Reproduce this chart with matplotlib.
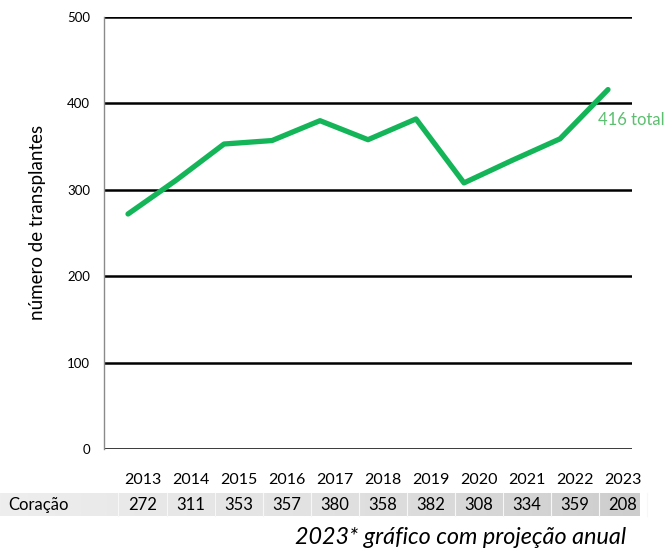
import numpy as np
import matplotlib.pyplot as plt

plt.rcParams['font.family'] = ['Lato', 'DejaVu Sans']

anos = ['2013', '2014', '2015', '2016', '2017', '2018', '2019', '2020', '2021', '2022', '2023']
transplantes = [272, 311, 353, 357, 380, 358, 382, 308, 334, 359, 416]
tabela_coracao = [272, 311, 353, 357, 380, 358, 382, 308, 334, 359, 208]
rotulo_linha = 'Coração'
rotulo_total = '416 total'

W, H = 668, 549
fig = plt.figure(figsize=(W / 100, H / 100), dpi=100, facecolor='white')

# grafico principal
ax = fig.add_axes([104 / W, 100 / H, 528 / W, 432 / H])
x = np.arange(len(anos))
for v in range(0, 501, 100):
    ax.axhline(v, color='black', lw=1.8, zorder=1)
ax.plot(x, transplantes, color='#14b558', lw=3.8, solid_capstyle='round',
        solid_joinstyle='round', zorder=3)
ax.set_xlim(-0.5, 10.5)
ax.set_ylim(0, 500)
ax.set_xticks([])
ax.set_yticks(range(0, 501, 100))
ax.tick_params(axis='y', length=0, pad=10, labelsize=9.5)
for s in ['top', 'right', 'bottom']:
    ax.spines[s].set_visible(False)
ax.spines['left'].set_color('#8a8a8a')
ax.spines['left'].set_linewidth(1)
ax.set_ylabel('número de transplantes', fontsize=13.5)
ax.yaxis.set_label_coords(-0.11, 0.525)
ax.text(x[-1] - 0.2, transplantes[-1] - 35, rotulo_total, color='#5cbf6f',
        fontsize=12, ha='left', va='center', clip_on=False)

# tabela abaixo (coordenadas em pixels)
tb = fig.add_axes([0, 0, 1, 1], zorder=-1)
tb.set_xlim(0, W)
tb.set_ylim(H, 0)
tb.axis('off')

grad = np.linspace(0, 1, 256).reshape(1, -1)
tb.imshow(grad, cmap=plt.matplotlib.colors.LinearSegmentedColormap.from_list(
    'g', ['#eeeeee', '#e2e2e2', '#cdcdcd']), extent=[0, 640, 516, 493],
    aspect='auto', zorder=0)
x0, dx = 143, 48
for i in range(len(anos)):
    cx = x0 + dx * i
    tb.text(cx, 480, anos[i], ha='center', va='center', fontsize=11.5)
    tb.text(cx, 505, str(tabela_coracao[i]), ha='center', va='center', fontsize=12)
    tb.plot([cx + dx / 2, cx + dx / 2], [493, 516], color='#f7f7f7', lw=0.8, zorder=1)
tb.plot([118, 118], [493, 516], color='#f7f7f7', lw=0.8, zorder=1)
tb.text(8, 505, rotulo_linha, ha='left', va='center', fontsize=12)
tb.text(626, 537, '2023* gráfico com projeção anual', ha='right', va='center',
        fontsize=16.8, style='italic')

fig.savefig('out.png', dpi=100)
